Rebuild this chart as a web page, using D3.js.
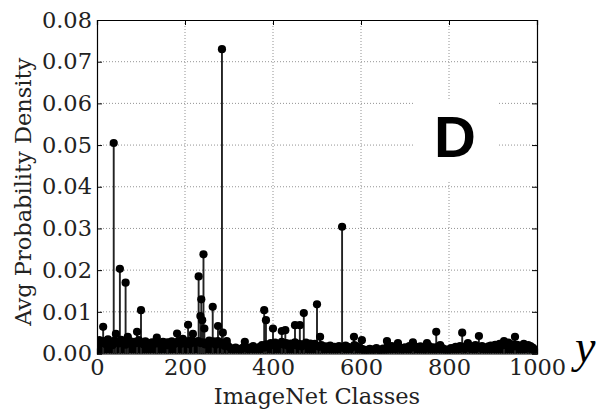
<!DOCTYPE html>
<html>
<head>
<meta charset="utf-8">
<script src="https://cdn.jsdelivr.net/npm/d3@7.9.0/dist/d3.min.js"></script>
<style>
  body { margin: 0; background: #fff; }
  svg { display: block; }
</style>
</head>
<body>
<svg width="601" height="410"></svg>
<script>
// tall spikes: class index and avg probability
const peakClasses = [14, 38, 43, 52, 65, 70, 91, 100, 136, 160, 182, 195, 207, 218,
  231, 235, 237, 239, 242, 244, 263, 275, 284, 286, 295, 336, 380, 384, 400, 420, 428,
  450, 461, 470, 500, 507, 557, 584, 602, 659, 684, 718, 750, 771, 830, 843, 868, 925, 950, 980];
const peakValues = [0.0064, 0.0505, 0.0047, 0.0203, 0.017, 0.004, 0.0052, 0.0104, 0.0038, 0.0027, 0.0048, 0.0035, 0.0069, 0.0047,
  0.0185, 0.009, 0.013, 0.008, 0.0238, 0.006, 0.0112, 0.0066, 0.073, 0.005, 0.003, 0.0028, 0.0104, 0.008, 0.006, 0.0054, 0.0056,
  0.0068, 0.0068, 0.0097, 0.0118, 0.004, 0.0304, 0.004, 0.0032, 0.003, 0.0025, 0.0027, 0.0025, 0.0052, 0.005, 0.0025, 0.0042, 0.003, 0.004, 0.002];

// low background classes, every 5th class from 0
const baseStep = 5;
const baseValues = [
  0.0028,0.0032,0.0025,0.0030,0.0022,0.0034,0.0026,0.0020,0.0031,0.0027,0.0024,0.0033,0.0029,0.0021,0.0026,0.0030,0.0023,0.0028,0.0025,0.0032,
  0.0026,0.0022,0.0029,0.0024,0.0020,0.0027,0.0023,0.0031,0.0025,0.0021,0.0028,0.0024,0.0020,0.0026,0.0029,0.0022,0.0025,0.0030,0.0023,0.0027,
  0.0024,0.0029,0.0022,0.0032,0.0026,0.0028,0.0030,0.0025,0.0027,0.0022,0.0026,0.0031,0.0024,0.0029,0.0021,0.0030,0.0026,0.0023,0.0018,0.0022,
  0.0016,0.0012,0.0010,0.0014,0.0011,0.0009,0.0013,0.0017,0.0012,0.0010,0.0015,0.0018,0.0013,0.0011,0.0016,0.0020,0.0014,0.0022,0.0018,0.0025,
  0.0020,0.0026,0.0019,0.0023,0.0028,0.0021,0.0025,0.0018,0.0024,0.0020,0.0027,0.0019,0.0023,0.0017,0.0022,0.0026,0.0018,0.0024,0.0020,0.0023,
  0.0018,0.0016,0.0020,0.0015,0.0017,0.0013,0.0019,0.0014,0.0016,0.0012,0.0018,0.0015,0.0013,0.0019,0.0016,0.0011,0.0015,0.0020,0.0017,0.0014,
  0.0012,0.0010,0.0008,0.0009,0.0011,0.0008,0.0010,0.0013,0.0009,0.0007,0.0012,0.0009,0.0016,0.0013,0.0018,0.0014,0.0011,0.0017,0.0013,0.0010,
  0.0015,0.0012,0.0018,0.0014,0.0019,0.0016,0.0012,0.0017,0.0013,0.0010,0.0014,0.0018,0.0012,0.0015,0.0011,0.0016,0.0020,0.0013,0.0010,0.0009,
  0.0010,0.0013,0.0011,0.0016,0.0014,0.0018,0.0012,0.0015,0.0019,0.0013,0.0017,0.0014,0.0020,0.0016,0.0013,0.0018,0.0015,0.0012,0.0017,0.0019,
  0.0016,0.0021,0.0018,0.0023,0.0019,0.0024,0.0020,0.0026,0.0018,0.0022,0.0017,0.0021,0.0015,0.0019,0.0023,0.0016,0.0012,0.0018,0.0014,0.0010
];

const xTicks = [0, 200, 400, 600, 800, 1000];
const yTicks = [0, 0.01, 0.02, 0.03, 0.04, 0.05, 0.06, 0.07, 0.08];

const margin = {left: 97, right: 64, top: 20, bottom: 56.5};
const W = 601, H = 410;
const pw = W - margin.left - margin.right;
const ph = H - margin.top - margin.bottom;
const serif = '"DejaVu Serif", serif';
const fs = 22.5;

const svg = d3.select('svg');
const x = d3.scaleLinear().domain([0, 1000]).range([0, pw]);
const y = d3.scaleLinear().domain([0, 0.08]).range([ph, 0]);

const g = svg.append('g').attr('transform', `translate(${margin.left},${margin.top})`);

g.append('clipPath').attr('id', 'clip')
  .append('rect').attr('width', pw).attr('height', ph);

// grid
g.append('g').selectAll('line').data(xTicks.slice(1, -1)).enter().append('line')
  .attr('x1', d => x(d)).attr('x2', d => x(d)).attr('y1', 0).attr('y2', ph)
  .attr('stroke', '#777').attr('stroke-width', 0.8).attr('stroke-dasharray', '1,2');
g.append('g').selectAll('line').data(yTicks.slice(1, -1)).enter().append('line')
  .attr('y1', d => y(d)).attr('y2', d => y(d)).attr('x1', 0).attr('x2', pw)
  .attr('stroke', '#777').attr('stroke-width', 0.8).attr('stroke-dasharray', '1,2');

// label "D" with white box behind it
g.append('rect').attr('x', 318).attr('y', 79).attr('width', 83).attr('height', 83).attr('fill', '#fff');
g.append('text').attr('x', 358).attr('y', 137).attr('text-anchor', 'middle')
  .attr('font-family', '"Liberation Sans", Arial, sans-serif').attr('font-weight', 'bold')
  .attr('font-size', 58).text('D');

// stems
const baseData = baseValues.map((v, i) => ({c: i * baseStep, v: v}));
const peakData = peakClasses.map((c, i) => ({c: c, v: peakValues[i]}));
const allData = baseData.concat(peakData);

const plot = g.append('g').attr('clip-path', 'url(#clip)');
plot.selectAll('line.base').data(baseData).enter().append('line')
  .attr('class', 'base')
  .attr('x1', d => x(d.c)).attr('x2', d => x(d.c))
  .attr('y1', y(0)).attr('y2', d => y(d.v))
  .attr('stroke', '#000').attr('stroke-width', 3.2)
  .attr('shape-rendering', 'crispEdges');
plot.selectAll('line.stem').data(peakData).enter().append('line')
  .attr('class', 'stem')
  .attr('x1', d => x(d.c)).attr('x2', d => x(d.c))
  .attr('y1', y(0)).attr('y2', d => y(d.v))
  .attr('stroke', '#222').attr('stroke-width', 1.9);
plot.selectAll('circle').data(allData).enter().append('circle')
  .attr('cx', d => x(d.c)).attr('cy', d => y(d.v)).attr('r', 4.1)
  .attr('fill', '#000');

// axes frame and inward ticks
const xAxis = d3.axisBottom(x).tickValues(xTicks).tickFormat(d3.format('d')).tickSize(-5).tickPadding(6);
const yAxis = d3.axisLeft(y).tickValues(yTicks).tickFormat(d3.format('.2f')).tickSize(-5).tickPadding(5);
g.append('g').attr('transform', `translate(0,${ph})`).call(xAxis);
g.append('g').call(yAxis);
g.append('g').call(d3.axisTop(x).tickValues(xTicks).tickSize(-5).tickFormat(''));
g.append('g').attr('transform', `translate(${pw},0)`).call(d3.axisRight(y).tickValues(yTicks).tickSize(-5).tickFormat(''));
g.selectAll('.domain').attr('stroke', '#000').attr('stroke-width', 1.2);
g.selectAll('.tick line').attr('stroke', '#000');
g.selectAll('.tick text').attr('font-family', serif).attr('font-size', fs).attr('fill', '#222');

// axis titles
svg.append('text').attr('x', margin.left + pw / 2).attr('y', 404).attr('text-anchor', 'middle')
  .attr('font-family', serif).attr('font-size', fs).attr('fill', '#222').text('ImageNet Classes');
svg.append('text').attr('transform', `translate(31,${margin.top + ph / 2 + 5}) rotate(-90)`)
  .attr('text-anchor', 'middle').attr('font-family', serif).attr('font-size', fs).attr('fill', '#222')
  .text('Avg Probability Density');

// math y at the right
svg.append('text').attr('x', 575).attr('y', 362)
  .attr('font-family', '"Liberation Serif", serif').attr('font-style', 'italic')
  .attr('font-size', 46).attr('fill', '#000').text('y');
</script>
</body>
</html>
